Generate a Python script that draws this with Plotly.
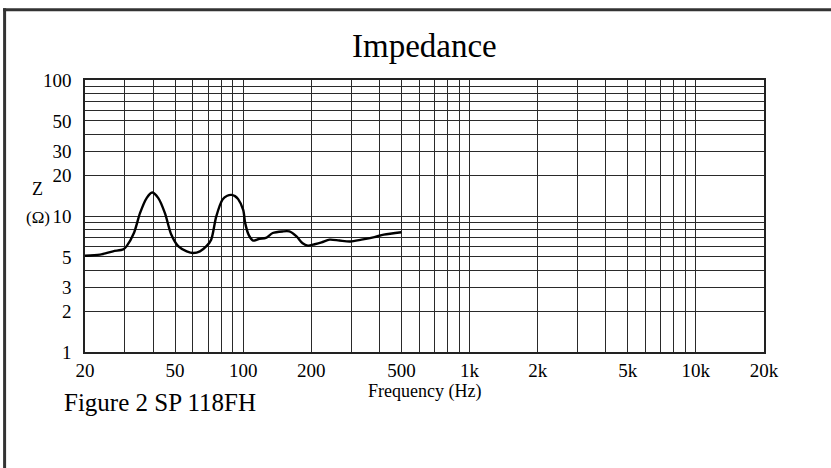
import plotly.graph_objects as go

# ---- data ----
freq_hz = [20, 23.3, 26.6, 29.5, 30.5, 32.9, 35.0, 37.5, 39.6, 42.1, 45.1, 48.1,
           51.6, 56.3, 60.2, 64.4, 68.8, 72.2, 76.0, 81.0, 85.0, 88.6, 92.0, 95.0,
           100, 102, 105.6, 110.6, 118, 126, 135, 149, 160, 172, 183, 193, 207,
           222, 241, 266, 297, 333, 380, 418, 500]
impedance_ohm = [5.1, 5.2, 5.5, 5.68, 5.98, 7.5, 10.5, 13.6, 14.9, 13.6, 10.5, 7.3,
                 6.0, 5.5, 5.35, 5.5, 6.0, 6.7, 9.9, 13.2, 14.1, 14.3, 14.0, 13.3,
                 11.1, 8.9, 7.3, 6.6, 6.8, 6.9, 7.5, 7.7, 7.7, 7.08, 6.3, 6.05, 6.2,
                 6.4, 6.7, 6.6, 6.5, 6.7, 7.0, 7.3, 7.6]

x_tickvals = [20, 50, 100, 200, 500, 1000, 2000, 5000, 10000, 20000]
x_ticktext = ["20", "50", "100", "200", "500", "1k", "2k", "5k", "10k", "20k"]
y_tickvals = [1, 2, 3, 5, 10, 20, 30, 50, 100]
y_ticktext = ["1", "2", "3", "5", "10", "20", "30", "50", "100"]

title_text = "Impedance"
x_title = "Frequency (Hz)"
caption = "Figure 2 SP 118FH"

# ---- layout geometry ----
W, H = 831, 468
L, R, T, B = 85, 67, 80, 116
pw, ph = W - L - R, H - T - B

def px(x):
    return (x - L) / pw

def py(y):
    return (H - B - y) / ph

minor_x = [m * d for d in (10, 100, 1000, 10000) for m in range(1, 10)
           if 20 <= m * d <= 20000]
minor_y = [m * d for d in (1, 10) for m in range(1, 10)] + [100]

FONT = "Liberation Serif, Times New Roman, serif"
GRID = "#2a2a2a"

fig = go.Figure()
fig.add_trace(go.Scatter(
    x=freq_hz, y=impedance_ohm, mode="lines",
    line=dict(color="black", width=2.4, shape="spline", smoothing=0.8),
    hoverinfo="skip", showlegend=False,
))

axis_common = dict(
    showgrid=True, gridcolor=GRID, gridwidth=1.1,
    showline=True, linecolor="#222", linewidth=1.6, mirror=True,
    zeroline=False, ticks="", tickfont=dict(family=FONT, size=19, color="black"),
)

fig.update_xaxes(
    type="log", range=[1.30103, 4.30103],
    tickmode="array", tickvals=x_tickvals, ticktext=x_ticktext,
    ticklabelstandoff=0,
    minor=dict(tickmode="array", tickvals=minor_x, showgrid=True,
               gridcolor=GRID, gridwidth=1.1),
    **axis_common,
)
fig.update_yaxes(
    type="log", range=[0, 2],
    tickmode="array", tickvals=y_tickvals, ticktext=y_ticktext,
    ticklabelstandoff=8,
    minor=dict(tickmode="array", tickvals=minor_y, showgrid=True,
               gridcolor=GRID, gridwidth=1.1),
    **axis_common,
)

annotations = [
    dict(text=title_text, x=px(424), y=py(46), font=dict(family=FONT, size=33)),
    dict(text=x_title, x=px(424.5), y=py(391), font=dict(family=FONT, size=18)),
    dict(text=caption, x=px(62), y=py(402), xanchor="left",
         font=dict(family=FONT, size=25)),
    dict(text="Z", x=px(37), y=py(189), font=dict(family=FONT, size=18)),
    dict(text="(Ω)", x=px(37.5), y=py(217), font=dict(family=FONT, size=17)),
]
for a in annotations:
    a.setdefault("xanchor", "center")
    a.update(xref="paper", yref="paper", yanchor="middle", showarrow=False)
    a["font"]["color"] = "black"

shapes = [
    dict(type="line", xref="paper", yref="paper",
         x0=px(4.6), x1=px(4.6), y0=py(H + 5), y1=py(8.3),
         line=dict(color="#333", width=3)),
    dict(type="line", xref="paper", yref="paper",
         x0=px(3.1), x1=px(W + 5), y0=py(9.7), y1=py(9.7),
         line=dict(color="#333", width=3)),
]

fig.update_layout(
    width=W, height=H,
    margin=dict(l=L, r=R, t=T, b=B),
    paper_bgcolor="white", plot_bgcolor="white",
    annotations=annotations, shapes=shapes,
    font=dict(family=FONT, color="black"),
)

fig.write_html(
    "out.html",
    config={"displayModeBar": False},
    post_script="document.body.style.margin='0';document.body.style.padding='0';"
                "document.body.style.overflow='hidden';",
)
